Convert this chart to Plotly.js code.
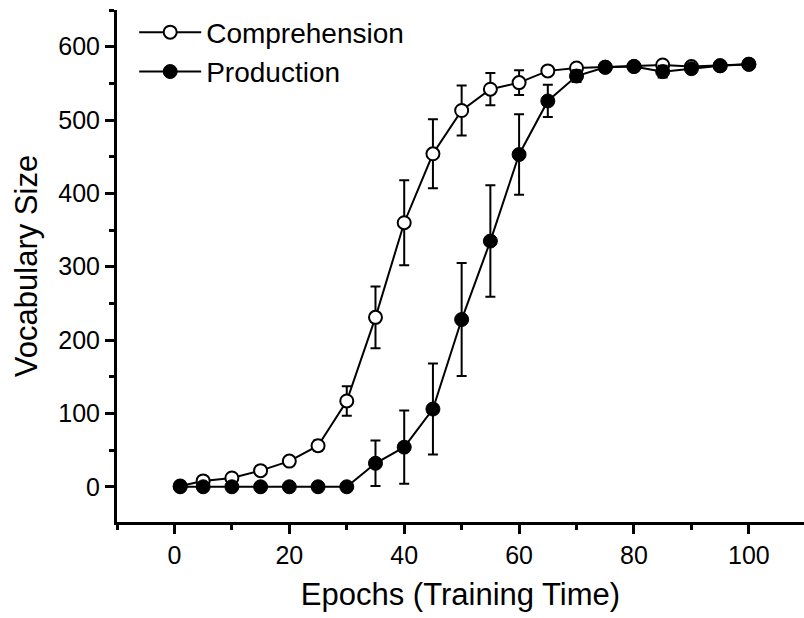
<!DOCTYPE html>
<html>
<head>
<meta charset="utf-8">
<script src="https://cdn.plot.ly/plotly-3.0.1.min.js"></script>
<style>html,body{margin:0;padding:0;background:#fff;}#chart{width:804px;height:618px;}</style>
</head>
<body>
<div id="chart"></div>
<script>
const epochs = [1, 5, 10, 15, 20, 25, 30, 35, 40, 45, 50, 55, 60, 65, 70, 75, 80, 85, 90, 95, 100];
const comprehension = [1, 8, 12, 22, 35, 56, 117, 231, 360, 454, 513, 542, 551, 567, 571, 572, 573, 575, 573, 574, 576];
const comprehensionErr = [0, 3, 4, 5, 5, 7, 20, 42, 58, 47, 34, 22, 17, 4, 3, 3, 2, 3, 2, 2, 2];
const production = [0, 0, 0, 0, 0, 0, 0, 32, 54, 106, 228, 335, 453, 526, 560, 572, 573, 566, 570, 574, 576];
const productionErr = [0, 0, 0, 0, 0, 0, 0, 31, 50, 62, 77, 76, 55, 22, 8, 3, 2, 8, 5, 2, 2];

const font = "Liberation Sans, Arial, sans-serif";

const traces = [
  {
    x: epochs, y: comprehension, name: 'Comprehension', type: 'scatter', mode: 'lines+markers',
    line: {color: '#000', width: 2},
    marker: {symbol: 'circle', size: 13, color: '#fff', line: {color: '#000', width: 2}},
    error_y: {type: 'data', array: comprehensionErr, visible: true, color: '#000', thickness: 2, width: 5}
  },
  {
    x: epochs, y: production, name: 'Production', type: 'scatter', mode: 'lines+markers',
    line: {color: '#000', width: 2},
    marker: {symbol: 'circle', size: 14, color: '#000', line: {color: '#000', width: 1}},
    error_y: {type: 'data', array: productionErr, visible: true, color: '#000', thickness: 2, width: 5}
  }
];

const layout = {
  width: 804, height: 618,
  margin: {l: 117, r: 0, t: 10, b: 96},
  paper_bgcolor: '#fff', plot_bgcolor: '#fff',
  font: {family: font, color: '#000'},
  showlegend: true,
  legend: {x: 0.025, y: 1.005, xanchor: 'left', yanchor: 'top', itemwidth: 62, font: {size: 28, family: font}, bgcolor: 'rgba(0,0,0,0)', tracegroupgap: 0},
  xaxis: {
    range: [-10, 109.6], showgrid: false, zeroline: false,
    showline: true, linecolor: '#000', linewidth: 3,
    ticks: 'outside', ticklen: 9, tickwidth: 3, tickcolor: '#000',
    tick0: 0, dtick: 20, tickfont: {size: 25, family: font},
    minor: {ticks: 'outside', dtick: 10, tick0: 0, ticklen: 5, tickwidth: 3, tickcolor: '#000', showgrid: false},
    title: {text: 'Epochs (Training Time)', font: {size: 31, family: font}, standoff: 16}
  },
  yaxis: {
    range: [-48, 650], showgrid: false, zeroline: false,
    showline: true, linecolor: '#000', linewidth: 3,
    ticks: 'outside', ticklen: 9, tickwidth: 3, tickcolor: '#000',
    tick0: 0, dtick: 100, tickfont: {size: 25, family: font},
    minor: {ticks: 'outside', dtick: 50, tick0: 0, ticklen: 5, tickwidth: 3, tickcolor: '#000', showgrid: false},
    title: {text: 'Vocabulary Size', font: {size: 31, family: font}, standoff: 12}
  }
};

Plotly.newPlot('chart', traces, layout, {displayModeBar: false, staticPlot: true});
</script>
</body>
</html>
